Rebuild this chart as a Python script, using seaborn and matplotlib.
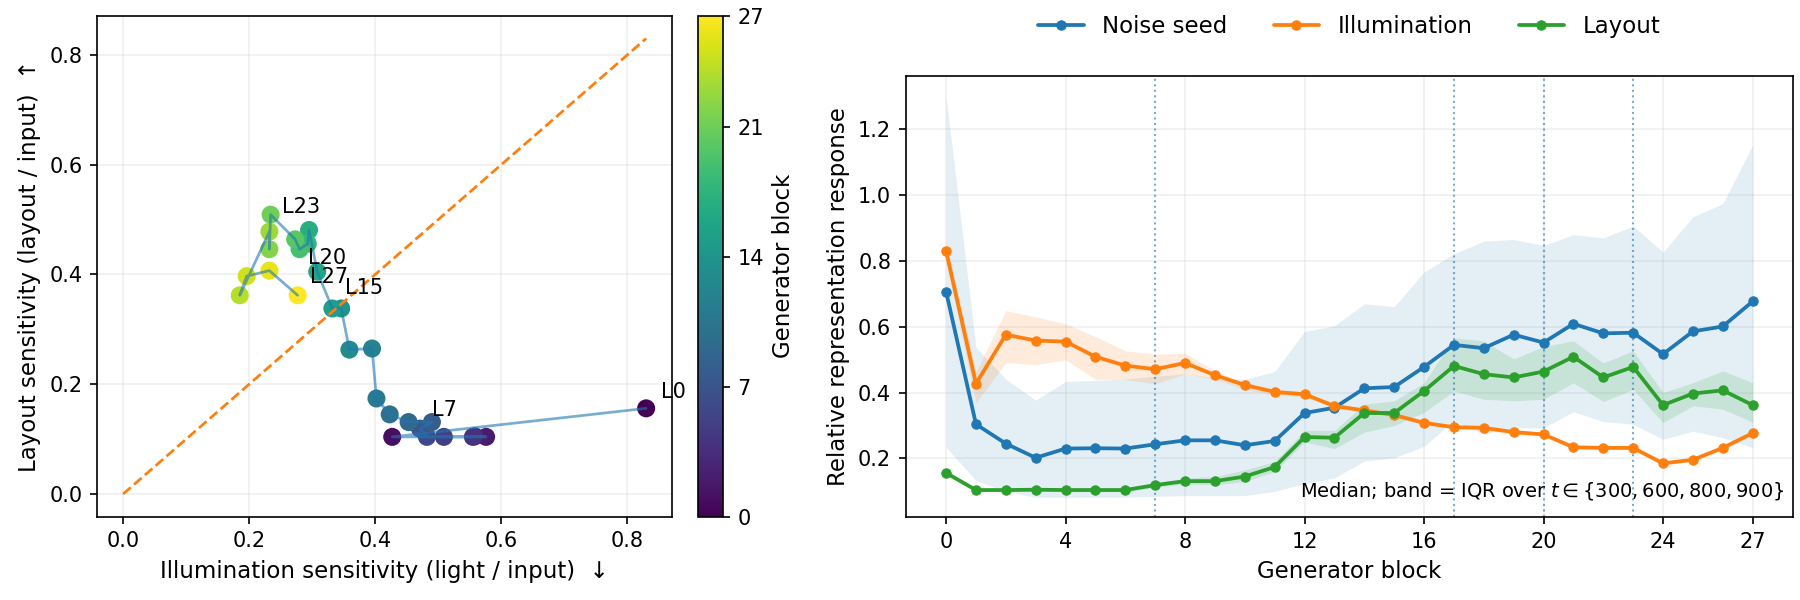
import numpy as np
import seaborn as sns
import matplotlib.pyplot as plt
import matplotlib as mpl

sns.set_style("ticks", rc={"axes.edgecolor": "black", "text.color": "black",
                           "axes.labelcolor": "black", "xtick.color": "black",
                           "ytick.color": "black"})
plt.rcParams['font.family'] = ['DejaVu Sans']

# generator blocks 0..27
blocks = np.arange(28)

# medians over timesteps
noise_med = [0.707, 0.304, 0.245, 0.202, 0.230, 0.231, 0.230, 0.243, 0.255, 0.255,
             0.240, 0.253, 0.338, 0.354, 0.413, 0.417, 0.478, 0.545, 0.535, 0.576,
             0.552, 0.609, 0.580, 0.582, 0.517, 0.586, 0.601, 0.677]
illum_med = [0.830, 0.427, 0.576, 0.558, 0.555, 0.509, 0.482, 0.471, 0.490, 0.453,
             0.423, 0.402, 0.395, 0.359, 0.346, 0.332, 0.308, 0.295, 0.293, 0.280,
             0.273, 0.234, 0.232, 0.232, 0.185, 0.196, 0.232, 0.277]
layout_med = [0.156, 0.104, 0.104, 0.105, 0.104, 0.104, 0.104, 0.119, 0.131, 0.131,
              0.145, 0.174, 0.265, 0.263, 0.338, 0.338, 0.405, 0.481, 0.456, 0.446,
              0.464, 0.509, 0.446, 0.478, 0.362, 0.397, 0.407, 0.362]

# IQR bands
noise_q1 = [0.234, 0.133, 0.100, 0.082, 0.082, 0.082, 0.082, 0.085, 0.087, 0.087,
            0.087, 0.100, 0.123, 0.141, 0.192, 0.202, 0.237, 0.314, 0.274, 0.293,
            0.293, 0.342, 0.312, 0.304, 0.258, 0.283, 0.263, 0.232]
noise_q3 = [1.300, 0.537, 0.441, 0.377, 0.434, 0.437, 0.441, 0.450, 0.457, 0.445,
            0.440, 0.464, 0.586, 0.603, 0.670, 0.661, 0.766, 0.822, 0.860, 0.865,
            0.847, 0.880, 0.870, 0.906, 0.827, 0.934, 0.974, 1.152]
illum_q1 = [0.800, 0.370, 0.491, 0.485, 0.500, 0.440, 0.440, 0.427, 0.457, 0.441,
            0.410, 0.392, 0.387, 0.352, 0.340, 0.326, 0.302, 0.290, 0.286, 0.274,
            0.268, 0.228, 0.227, 0.227, 0.180, 0.191, 0.227, 0.270]
illum_q3 = [0.857, 0.462, 0.649, 0.630, 0.609, 0.570, 0.527, 0.517, 0.520, 0.466,
            0.430, 0.410, 0.402, 0.366, 0.352, 0.338, 0.314, 0.300, 0.299, 0.286,
            0.279, 0.240, 0.238, 0.238, 0.190, 0.201, 0.238, 0.284]
layout_q1 = [0.150, 0.099, 0.099, 0.100, 0.099, 0.099, 0.099, 0.112, 0.122, 0.120,
             0.130, 0.160, 0.250, 0.230, 0.280, 0.300, 0.340, 0.405, 0.380, 0.375,
             0.380, 0.430, 0.373, 0.410, 0.309, 0.360, 0.350, 0.310]
layout_q3 = [0.162, 0.109, 0.109, 0.110, 0.109, 0.109, 0.109, 0.126, 0.140, 0.145,
             0.165, 0.190, 0.285, 0.285, 0.365, 0.375, 0.430, 0.566, 0.557, 0.502,
             0.540, 0.557, 0.490, 0.527, 0.400, 0.430, 0.466, 0.430]

transition_blocks = [7, 17, 20, 23]
labelled = [0, 7, 15, 20, 23, 27]
label_offsets = [(7, 5), (6, 6), (6, 7), (6, -12), (6, 9), (6, 6)]

fig = plt.figure(figsize=(12, 4), dpi=150)
ax1 = fig.add_axes([0.0539, 0.1388, 0.3196, 0.835])
cax = fig.add_axes([0.3878, 0.1388, 0.0139, 0.835])
ax2 = fig.add_axes([0.5032, 0.1378, 0.4929, 0.735])

# ---- left: illumination vs layout sensitivity trajectory
norm = mpl.colors.Normalize(vmin=0, vmax=27)
sns.scatterplot(x=illum_med, y=layout_med, hue=blocks, palette='viridis',
                hue_norm=norm, s=75, linewidth=0, legend=False, ax=ax1, zorder=2)
ax1.plot(illum_med, layout_med, color='tab:blue', alpha=0.6, lw=1.3, zorder=3)
m = max(max(illum_med), max(layout_med))
ax1.plot([0, m], [0, m], ls='--', color='tab:orange', lw=1.3, zorder=3)
for b, off in zip(labelled, label_offsets):
    ax1.annotate(f"L{b}", (illum_med[b], layout_med[b]), xytext=off,
                 textcoords='offset points', fontsize=10)
ax1.set_xlabel("Illumination sensitivity (light / input)  \u2193", fontsize=11)
ax1.set_ylabel("Layout sensitivity (layout / input)  \u2191", fontsize=11)
ax1.tick_params(labelsize=10)
ax1.grid(True, alpha=0.3)

sm = mpl.cm.ScalarMappable(norm=norm, cmap='viridis')
cb = fig.colorbar(sm, cax=cax, ticks=[0, 7, 14, 21, 27])
cb.set_label("Generator block", fontsize=11)
cb.ax.tick_params(labelsize=10)

# ---- right: responses per block
series = [("Noise seed", noise_med, noise_q1, noise_q3, 'tab:blue', 0.12),
          ("Illumination", illum_med, illum_q1, illum_q3, 'tab:orange', 0.15),
          ("Layout", layout_med, layout_q1, layout_q3, 'tab:green', 0.15)]
for name, med, q1, q3, col, a in series:
    ax2.fill_between(blocks, q1, q3, color=col, alpha=a, lw=0)
for name, med, q1, q3, col, a in series:
    sns.lineplot(x=blocks, y=med, color=col, marker='o', markersize=4.5,
                 markeredgecolor=col, markeredgewidth=0.5, lw=1.8,
                 label=name, ax=ax2)
for b in transition_blocks:
    ax2.axvline(b, color='tab:blue', ls=':', lw=1, alpha=0.6, zorder=1)

ax2.set_xticks([0, 4, 8, 12, 16, 20, 24, 27])
ax2.set_xlabel("Generator block", fontsize=11)
ax2.set_ylabel("Relative representation response", fontsize=11)
ax2.tick_params(labelsize=10)
ax2.grid(True, alpha=0.3)
ax2.text(0.99, 0.035, r"Median; band = IQR over $t \in \{300, 600, 800, 900\}$",
         transform=ax2.transAxes, ha='right', va='bottom', fontsize=9.3)
ax2.legend(loc='center', bbox_to_anchor=(0.5, 1.1125), ncol=3, frameon=False,
           fontsize=11)

fig.savefig("out.png", dpi=150)
